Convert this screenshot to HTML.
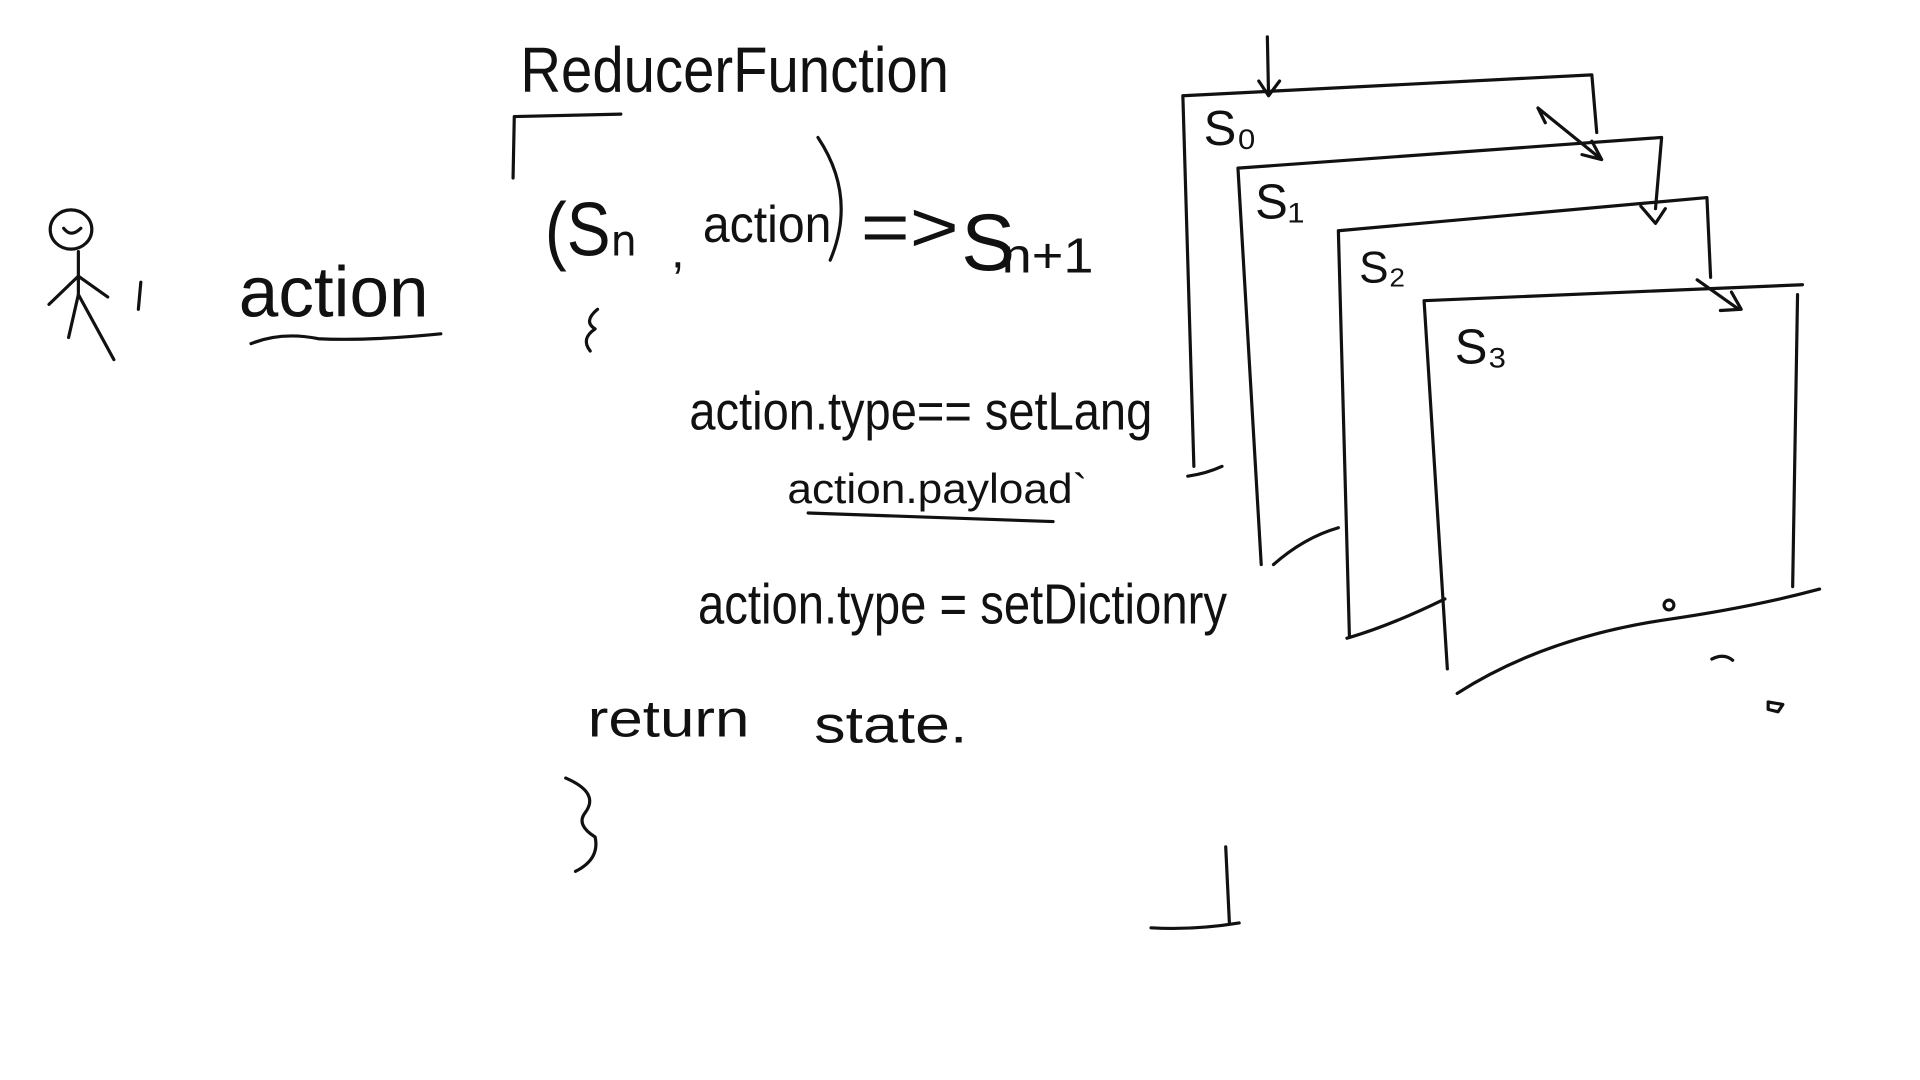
<!DOCTYPE html>
<html><head><meta charset="utf-8"><style>
html,body{margin:0;padding:0;background:#fff;width:1920px;height:1080px;overflow:hidden}
svg{display:block}
text{font-family:"Liberation Sans Narrow","Liberation Sans",sans-serif;fill:#111;font-weight:normal}
</style></head><body>
<svg width="1920" height="1080" viewBox="0 0 1568 880" preserveAspectRatio="none" xmlns="http://www.w3.org/2000/svg">
<g fill="none" stroke="#111" stroke-width="2.6" stroke-linecap="round" stroke-linejoin="round">
<ellipse cx="58" cy="187" rx="17" ry="16"/>
<path d="M52 186 Q58 194 66 186"/>
<path d="M64 205 L64 240 L56 275 M64 240 L93 293 M40 248 L64 225 L88 242"/>
<path d="M115 230 L113 252"/>
<path d="M205 280 Q230 270 260 276 Q300 278 360 272"/>
<path d="M420 95 L507 93 M420 95 L419 145"/>
<path d="M668 112 Q700 160 678 212"/>
<path d="M488 252 Q476 262 486 268 Q474 276 482 286"/>
<path d="M462 634 Q490 646 478 662 Q470 672 486 682 Q490 700 470 710"/>
<path d="M660 418 L860 425"/>
<path d="M1001 690 L1004 752 M940 756 Q975 758 1012 752"/>
<path d="M966 78 L1300 61 L1304 108 M966 78 L975 380 M970 388 Q985 386 998 380"/>
<path d="M1035 30 L1036 78 M1028 66 L1036 78 L1045 66"/>
<path d="M1011 137 L1357 112 L1352 170 M1011 137 L1030 460 M1040 460 Q1065 438 1093 430"/>
<path d="M1256 88 L1308 130 M1300 115 L1308 130 L1292 126 M1256 88 L1262 100"/>
<path d="M1093 188 L1394 161 L1397 226 M1093 188 L1102 518 M1100 520 Q1135 510 1180 488"/>
<path d="M1340 168 L1352 182 L1360 170"/>
<path d="M1163 245 L1472 232 M1163 245 L1182 545 M1468 240 L1464 478 M1190 565 Q1260 520 1360 505 Q1430 495 1486 480"/>
<path d="M1386 228 L1420 252 M1405 253 L1422 252 L1414 238"/>
<circle cx="1363" cy="493" r="4"/>
<path d="M1398 537 Q1408 532 1415 538"/>
<path d="M1444 572 L1456 574 L1452 580 L1444 578 Z"/>
</g>
<g>
<text x="425" y="75" font-size="52" textLength="350" lengthAdjust="spacingAndGlyphs">ReducerFunction</text>
<text x="195" y="258" font-size="58" textLength="155" lengthAdjust="spacingAndGlyphs">action</text>
<text x="445" y="208" font-size="62" textLength="75" lengthAdjust="spacingAndGlyphs">(Sₙ</text>
<text x="548" y="218" font-size="40">,</text>
<text x="574" y="197" font-size="42" textLength="105" lengthAdjust="spacingAndGlyphs">action</text>
<text x="703" y="205" font-size="58" textLength="80" lengthAdjust="spacingAndGlyphs">=&gt;</text>
<text x="785" y="220" font-size="66">S</text>
<text x="818" y="222" font-size="40" textLength="75" lengthAdjust="spacingAndGlyphs">n+1</text>
<text x="563" y="350" font-size="44" textLength="378" lengthAdjust="spacingAndGlyphs">action.type== setLang</text>
<text x="643" y="410" font-size="34" textLength="245" lengthAdjust="spacingAndGlyphs">action.payload`</text>
<text x="570" y="508" font-size="46" textLength="432" lengthAdjust="spacingAndGlyphs">action.type = setDictionry</text>
<text x="480" y="600" font-size="42" textLength="132" lengthAdjust="spacingAndGlyphs">return</text>
<text x="665" y="605" font-size="42" textLength="125" lengthAdjust="spacingAndGlyphs">state.</text>
<text x="983" y="118" font-size="40">S₀</text>
<text x="1025" y="178" font-size="40">S₁</text>
<text x="1110" y="230" font-size="36">S₂</text>
<text x="1188" y="296" font-size="40">S₃</text>
</g>
</svg>
</body></html>
